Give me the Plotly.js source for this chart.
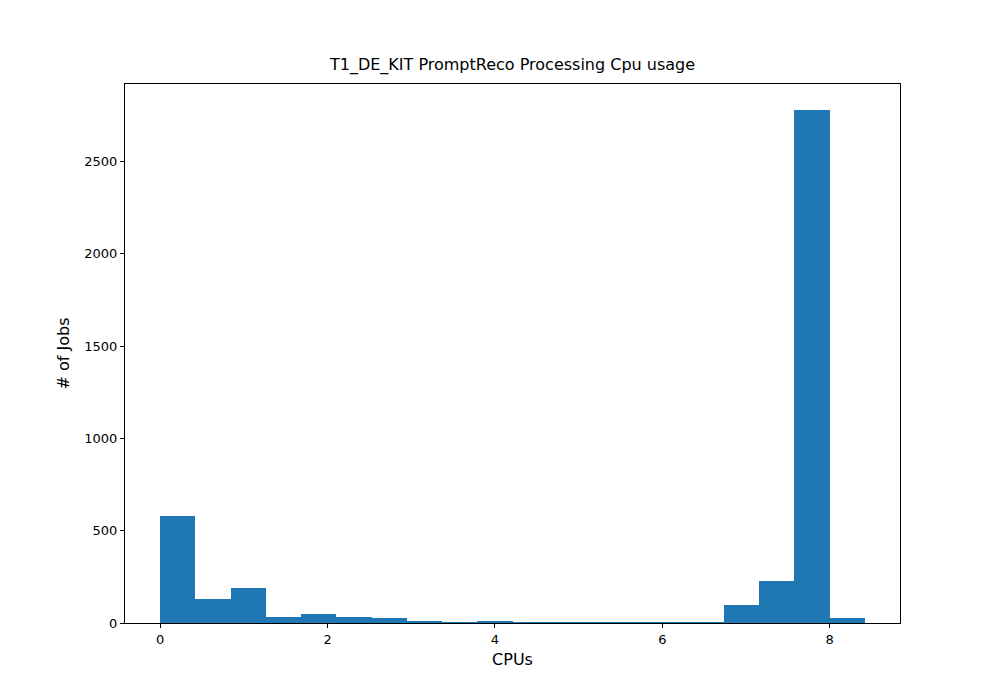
<!DOCTYPE html>
<html>
<head>
<meta charset="utf-8">
<script src="https://cdn.plot.ly/plotly-3.0.1.min.js"></script>
<style>body{margin:0;background:#fff}</style>
</head>
<body>
<div id="chart" style="width:1000px;height:700px"></div>
<script>
// histogram: 20 bins from 0 to 8.42
const binStart = 0;
const binWidth = 0.421;
const jobCounts = [580, 130, 190, 35, 50, 35, 25, 8, 4, 8, 3, 3, 3, 3, 3, 3, 100, 230, 2780, 25];

const centers = jobCounts.map((_, i) => binStart + binWidth * (i + 0.5));

const trace = {
    x: centers,
    y: jobCounts,
    type: 'bar',
    width: binWidth,
    marker: {color: '#1f77b4', line: {width: 0}},
    hoverinfo: 'x+y'
};

const layout = {
    width: 1000,
    height: 700,
    paper_bgcolor: '#fff',
    plot_bgcolor: '#fff',
    margin: {l: 125, r: 100, t: 84, b: 77},
    font: {family: 'DejaVu Sans, sans-serif', size: 13, color: '#000'},
    title: {text: 'T1_DE_KIT PromptReco Processing Cpu usage', x: 0.5125, xanchor: 'center', y: 0.9, yanchor: 'bottom', font: {size: 16}},
    bargap: 0,
    showlegend: false,
    xaxis: {
        range: [-0.421, 8.841],
        tickvals: [0, 2, 4, 6, 8],
        ticks: 'outside', ticklen: 4, tickcolor: '#000',
        showgrid: false, zeroline: false,
        showline: true, linecolor: '#000', mirror: true,
        title: {text: 'CPUs', standoff: 8}
    },
    yaxis: {
        range: [0, 2919],
        tickvals: [0, 500, 1000, 1500, 2000, 2500],
        ticks: 'outside', ticklen: 4, tickcolor: '#000',
        showgrid: false, zeroline: false,
        showline: true, linecolor: '#000', mirror: true,
        title: {text: '# of Jobs', standoff: 10}
    }
};

Plotly.newPlot('chart', [trace], layout, {displayModeBar: false});
</script>
</body>
</html>
